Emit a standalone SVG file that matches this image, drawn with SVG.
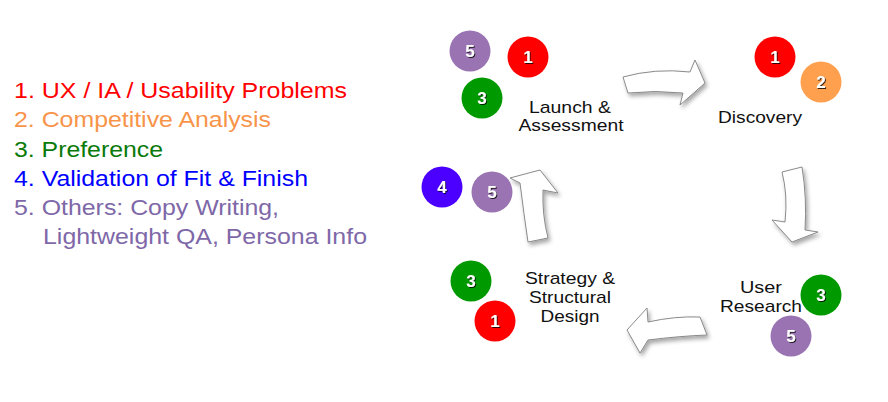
<svg xmlns="http://www.w3.org/2000/svg" width="888" height="402" viewBox="0 0 888 402">
<defs>
<filter id="sh" x="-20%" y="-20%" width="150%" height="150%"><feDropShadow dx="2" dy="3" stdDeviation="2" flood-color="#000" flood-opacity="0.35"/></filter>
<filter id="ts" x="-20%" y="-20%" width="150%" height="150%"><feDropShadow dx="1" dy="1" stdDeviation="0.4" flood-color="#000" flood-opacity="0.8"/></filter>
<style>
.lg{font-family:"Liberation Sans",Arial,sans-serif;font-size:22px}
.lb{font-family:"Liberation Sans",Arial,sans-serif;font-size:17px;fill:#111;text-anchor:middle}
.n{font-family:"Liberation Sans",Arial,sans-serif;font-size:17px;font-weight:bold;fill:#fff;text-anchor:middle;filter:url(#ts)}
.ar{fill:#fff;stroke:#8a8a8a;stroke-width:1;filter:url(#sh)}
.red{fill:#ff0000}.grn{fill:#009900}.pur{fill:#9a73b2}.org{fill:#ffa04f}.blu{fill:#4b00ff}
</style>
</defs>
<rect width="888" height="402" fill="#fff"/>
<g id="legend">
<text class="lg" x="14" y="98" fill="#ff0000" textLength="333" lengthAdjust="spacingAndGlyphs">1. UX / IA / Usability Problems</text>
<text class="lg" x="14" y="127" fill="#f8944a" textLength="257" lengthAdjust="spacingAndGlyphs">2. Competitive Analysis</text>
<text class="lg" x="14" y="157" fill="#0a7a0a" textLength="149" lengthAdjust="spacingAndGlyphs">3. Preference</text>
<text class="lg" x="14" y="186" fill="#0000ff" textLength="294" lengthAdjust="spacingAndGlyphs">4. Validation of Fit &amp; Finish</text>
<text class="lg" x="14" y="215" fill="#7e68a8" textLength="265" lengthAdjust="spacingAndGlyphs">5. Others: Copy Writing,</text>
<text class="lg" x="43" y="244" fill="#7e68a8" textLength="324" lengthAdjust="spacingAndGlyphs">Lightweight QA, Persona Info</text>
</g>
<g id="connectors">
<path class="ar" d="M623,77 Q655,68 690,72 L695,60 L705,83 L680,105 L683,93 Q655,90 628,93 Z"/>
<path class="ar" d="M782,172 L802,167 Q807,198 805,230 L818,232 L792,242 L772,220 L785,222 Q788,195 782,172 Z"/>
<path class="ar" d="M700,317 L707,335 Q680,336 648,340 L640,353 L627,330 L647,308 L648,322 Q675,316 700,317 Z"/>
<path class="ar" d="M528,242 L548,238 Q542,215 543,190 L558,193 L540,170 L510,178 L520,183 Q524,215 528,242 Z"/>
</g>
<g id="launch">
<text class="lb" x="570" y="113" textLength="82" lengthAdjust="spacingAndGlyphs">Launch &amp;</text>
<text class="lb" x="571" y="131" textLength="105" lengthAdjust="spacingAndGlyphs">Assessment</text>
<circle class="pur" cx="470" cy="51" r="20.5"/><text class="n" x="470" y="57">5</text>
<circle class="red" cx="528" cy="57" r="20.5"/><text class="n" x="528" y="63">1</text>
<circle class="grn" cx="482" cy="98" r="20.5"/><text class="n" x="482" y="104">3</text>
</g>
<g id="discovery">
<text class="lb" x="760" y="123" textLength="84" lengthAdjust="spacingAndGlyphs">Discovery</text>
<circle class="red" cx="775" cy="57" r="20.5"/><text class="n" x="775" y="63">1</text>
<circle class="org" cx="821" cy="82" r="20.5"/><text class="n" x="821" y="88">2</text>
</g>
<g id="user-research">
<text class="lb" x="761" y="293" textLength="42" lengthAdjust="spacingAndGlyphs">User</text>
<text class="lb" x="761" y="312" textLength="82" lengthAdjust="spacingAndGlyphs">Research</text>
<circle class="grn" cx="821" cy="295" r="20.5"/><text class="n" x="821" y="301">3</text>
<circle class="pur" cx="791" cy="336" r="20.5"/><text class="n" x="791" y="342">5</text>
</g>
<g id="strategy">
<text class="lb" x="570" y="284" textLength="90" lengthAdjust="spacingAndGlyphs">Strategy &amp;</text>
<text class="lb" x="570" y="303" textLength="82" lengthAdjust="spacingAndGlyphs">Structural</text>
<text class="lb" x="570" y="322" textLength="59" lengthAdjust="spacingAndGlyphs">Design</text>
<circle class="grn" cx="471" cy="281" r="20.5"/><text class="n" x="471" y="287">3</text>
<circle class="red" cx="495" cy="321" r="20.5"/><text class="n" x="495" y="327">1</text>
</g>
<g id="validation">
<circle class="blu" cx="442" cy="187" r="20.5"/><text class="n" x="442" y="193">4</text>
<circle class="pur" cx="492" cy="192" r="20.5"/><text class="n" x="492" y="198">5</text>
</g>
</svg>
